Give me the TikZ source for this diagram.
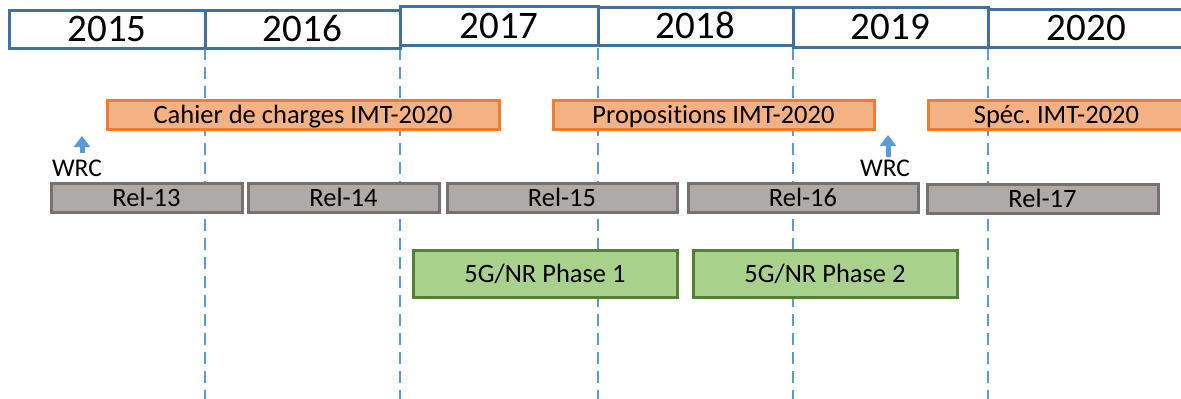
\documentclass[tikz,border=0pt]{standalone}
\usepackage{fontspec}
\setmainfont{Carlito}[Ligatures=NoCommon]
\frenchspacing
\usetikzlibrary{arrows.meta}
\definecolor{yearblue}{HTML}{41719C}
\definecolor{dashblue}{HTML}{5B9BD5}
\definecolor{orfill}{HTML}{F4B183}
\definecolor{ordraw}{HTML}{ED7D31}
\definecolor{grfill}{HTML}{AEAAAA}
\definecolor{grdraw}{HTML}{767171}
\definecolor{gnfill}{HTML}{A9D18E}
\definecolor{gndraw}{HTML}{548235}
\tikzset{
  base/.style={inner sep=0pt, text depth=0pt, line width=3pt},
  yearbox/.style={base, text height=25pt, draw=yearblue, fill=white, font=\fontsize{39}{42}\selectfont, minimum height=38pt},
  orangebox/.style={base, text height=17pt, draw=ordraw, fill=orfill, font=\fontsize{26.5}{29}\selectfont, minimum height=29pt},
  graybox/.style={base, text height=17pt, draw=grdraw, fill=grfill, font=\fontsize{26.5}{29}\selectfont, minimum height=29pt},
  greenbox/.style={base, text height=17pt, draw=gndraw, fill=gnfill, font=\fontsize{26.5}{29}\selectfont, minimum height=47pt},
  wrclabel/.style={inner sep=0pt, text height=17pt, text depth=0pt, font=\fontsize{25.5}{28}\selectfont},
  divider/.style={dashblue, line width=2.4pt, dash pattern=on 12pt off 7pt},
  wrcarrow/.style={dashblue, line width=5pt, -{Triangle[width=16pt,length=11pt]}}
}
\begin{document}
\begin{tikzpicture}[x=1pt,y=-1pt]
\useasboundingbox (0,0) rectangle (1181,399);
% dashed dividers
\foreach \xx/\nm in {205/a,400/b,598/c,793/d,988/e}{
  \coordinate (top\nm) at (\xx,48);
  \coordinate (bot\nm) at (\xx,399);
  \draw[divider] (top\nm) -- (bot\nm);
}
% years
\node[yearbox, minimum width=196pt] (y2015) at (107,29) {2015};
\node[yearbox, minimum width=195pt] (y2016) at (302.5,29) {2016};
\node[yearbox, minimum width=198pt, minimum height=39pt] (y2017) at (499,25.5) {2017};
\node[yearbox, minimum width=195pt] (y2018) at (695.5,26) {2018};
\node[yearbox, minimum width=195pt, minimum height=40pt] (y2019) at (890.5,27) {2019};
\node[yearbox, minimum width=197pt] (y2020) at (1086.5,28) {2020};
% orange
\node[orangebox, minimum width=392pt] (cahier) at (303,114.5) {Cahier de charges IMT-2020};
\node[orangebox, minimum width=321pt] (prop) at (713.5,114.5) {Propositions IMT-2020};
\node[orangebox, minimum width=257pt] (spec) at (1056.5,114.5) {Spéc. IMT-2020};
% WRC
\node[wrclabel] (wrc1) at (77,168) {WRC};
\coordinate (wrc1a) at (82,153);
\coordinate (wrc1t) at (82,136);
\draw[wrcarrow] (wrc1a) -- (wrc1t);
\node[wrclabel] (wrc2) at (885,168) {WRC};
\coordinate (wrc2a) at (888,157);
\coordinate (wrc2t) at (888,135);
\draw[wrcarrow] (wrc2a) -- (wrc2t);
% gray
\node[graybox, minimum width=191pt] (r13) at (146.5,197.5) {Rel-13};
\node[graybox, minimum width=191pt] (r14) at (343.5,197.5) {Rel-14};
\node[graybox, minimum width=230pt] (r15) at (562,197.5) {Rel-15};
\node[graybox, minimum width=230pt] (r16) at (803,197.5) {Rel-16};
\node[graybox, minimum width=231pt] (r17) at (1042.5,198.5) {Rel-17};
% green
\node[greenbox, minimum width=264pt] (p1) at (545,273.5) {5G/NR Phase 1};
\node[greenbox, minimum width=264pt] (p2) at (825,273.5) {5G/NR Phase 2};
\end{tikzpicture}
\end{document}
